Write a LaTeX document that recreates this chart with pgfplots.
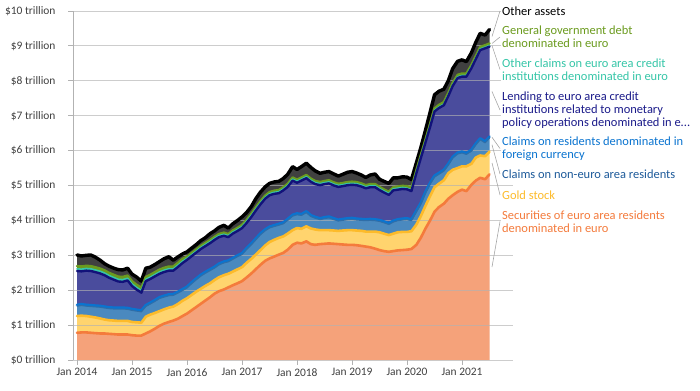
\documentclass[border=0pt]{standalone}
\usepackage{pgfplots}
\usepackage{pgfplotstable}
\pgfplotsset{compat=1.18}
\usepackage{fontspec}
\setmainfont{Carlito}

\definecolor{secF}{HTML}{F5A27A}
\definecolor{secL}{HTML}{F47B3C}
\definecolor{goldF}{HTML}{FFD46E}
\definecolor{goldL}{HTML}{FDBB2A}
\definecolor{neF}{HTML}{4A89BF}
\definecolor{neL}{HTML}{2F6EA8}
\definecolor{fxL}{HTML}{0A74D0}
\definecolor{lendF}{HTML}{4A4C9D}
\definecolor{lendL}{HTML}{12127A}
\definecolor{ociL}{HTML}{36C6A8}
\definecolor{govL}{HTML}{6B9B1E}
\definecolor{othF}{HTML}{404040}
\definecolor{labNE}{HTML}{1D5A9A}
\definecolor{labLend}{HTML}{1B1B8A}

\pgfplotstableread{
t       sec  gold noneuro fx   lend oci  gov  oth
2014.00 0.78 0.48 0.28 0.04 0.97 0.06 0.08 0.32
2014.08 0.79 0.48 0.29 0.04 0.94 0.06 0.08 0.30
2014.17 0.79 0.47 0.28 0.04 0.98 0.06 0.08 0.30
2014.25 0.78 0.46 0.29 0.04 0.98 0.06 0.08 0.32
2014.33 0.77 0.45 0.30 0.04 0.96 0.06 0.08 0.29
2014.42 0.76 0.43 0.32 0.04 0.93 0.06 0.08 0.24
2014.50 0.76 0.40 0.33 0.04 0.90 0.06 0.08 0.19
2014.58 0.75 0.39 0.33 0.04 0.85 0.06 0.08 0.19
2014.67 0.74 0.39 0.33 0.04 0.80 0.06 0.08 0.19
2014.75 0.73 0.39 0.34 0.04 0.75 0.06 0.08 0.20
2014.83 0.73 0.39 0.34 0.04 0.74 0.06 0.08 0.20
2014.92 0.73 0.39 0.33 0.04 0.79 0.06 0.08 0.21
2015.00 0.71 0.38 0.33 0.04 0.66 0.06 0.08 0.20
2015.08 0.70 0.38 0.32 0.04 0.58 0.06 0.08 0.22
2015.17 0.70 0.37 0.31 0.04 0.51 0.06 0.08 0.19
2015.25 0.76 0.48 0.29 0.04 0.69 0.05 0.07 0.25
2015.33 0.82 0.48 0.30 0.04 0.68 0.05 0.07 0.22
2015.42 0.90 0.45 0.33 0.04 0.68 0.05 0.07 0.22
2015.50 0.98 0.42 0.36 0.04 0.67 0.05 0.07 0.23
2015.58 1.04 0.41 0.35 0.04 0.68 0.05 0.07 0.26
2015.67 1.09 0.41 0.34 0.04 0.68 0.05 0.07 0.28
2015.75 1.13 0.40 0.32 0.04 0.67 0.05 0.07 0.18
2015.83 1.18 0.42 0.31 0.04 0.71 0.05 0.07 0.17
2015.92 1.26 0.44 0.29 0.04 0.75 0.05 0.07 0.14
2016.00 1.33 0.44 0.29 0.04 0.77 0.04 0.05 0.14
2016.08 1.42 0.44 0.32 0.04 0.75 0.04 0.05 0.14
2016.17 1.52 0.44 0.34 0.04 0.74 0.04 0.05 0.14
2016.25 1.61 0.43 0.36 0.04 0.74 0.04 0.05 0.15
2016.33 1.70 0.42 0.36 0.04 0.74 0.04 0.05 0.15
2016.42 1.80 0.40 0.36 0.04 0.75 0.04 0.05 0.18
2016.50 1.90 0.39 0.34 0.04 0.77 0.04 0.05 0.17
2016.58 1.97 0.40 0.35 0.04 0.76 0.04 0.05 0.19
2016.67 2.02 0.41 0.35 0.04 0.74 0.04 0.05 0.21
2016.75 2.08 0.39 0.34 0.04 0.67 0.04 0.05 0.17
2016.83 2.14 0.39 0.35 0.04 0.70 0.04 0.05 0.19
2016.92 2.20 0.40 0.36 0.04 0.70 0.04 0.05 0.21
2017.00 2.26 0.40 0.36 0.04 0.72 0.04 0.05 0.23
2017.08 2.36 0.42 0.38 0.04 0.72 0.04 0.05 0.21
2017.17 2.48 0.42 0.40 0.04 0.76 0.04 0.05 0.21
2017.25 2.60 0.42 0.42 0.04 0.80 0.04 0.05 0.25
2017.33 2.72 0.42 0.44 0.04 0.83 0.04 0.05 0.26
2017.42 2.84 0.44 0.42 0.04 0.88 0.04 0.05 0.25
2017.50 2.91 0.47 0.40 0.04 0.90 0.04 0.05 0.25
2017.58 2.96 0.48 0.38 0.04 0.90 0.04 0.05 0.25
2017.67 3.02 0.48 0.36 0.04 0.88 0.04 0.05 0.25
2017.75 3.07 0.47 0.36 0.04 0.92 0.04 0.05 0.25
2017.83 3.16 0.46 0.38 0.04 0.92 0.04 0.05 0.27
2017.92 3.30 0.42 0.40 0.04 0.98 0.04 0.05 0.31
2018.00 3.36 0.42 0.38 0.04 0.88 0.04 0.05 0.29
2018.08 3.34 0.42 0.38 0.04 0.96 0.04 0.05 0.31
2018.17 3.40 0.43 0.39 0.04 0.95 0.04 0.05 0.34
2018.25 3.32 0.45 0.34 0.04 0.96 0.04 0.05 0.32
2018.33 3.30 0.44 0.32 0.04 0.94 0.04 0.05 0.29
2018.42 3.32 0.40 0.30 0.04 0.95 0.04 0.05 0.25
2018.50 3.33 0.39 0.33 0.04 0.95 0.04 0.05 0.25
2018.58 3.34 0.38 0.35 0.04 0.95 0.04 0.05 0.25
2018.67 3.33 0.38 0.31 0.04 0.94 0.04 0.05 0.24
2018.75 3.32 0.38 0.28 0.04 0.94 0.04 0.05 0.22
2018.83 3.31 0.40 0.29 0.04 0.94 0.04 0.05 0.25
2018.92 3.30 0.42 0.30 0.04 0.95 0.04 0.05 0.28
2019.00 3.30 0.42 0.31 0.04 0.95 0.04 0.05 0.29
2019.08 3.29 0.42 0.30 0.04 0.96 0.04 0.05 0.26
2019.17 3.27 0.43 0.30 0.04 0.93 0.04 0.05 0.24
2019.25 3.25 0.43 0.31 0.04 0.89 0.04 0.05 0.22
2019.33 3.23 0.45 0.32 0.04 0.91 0.04 0.05 0.26
2019.42 3.19 0.49 0.31 0.04 0.92 0.04 0.05 0.29
2019.50 3.15 0.51 0.31 0.04 0.86 0.04 0.05 0.22
2019.58 3.12 0.50 0.31 0.04 0.83 0.04 0.05 0.23
2019.67 3.10 0.48 0.30 0.04 0.81 0.04 0.05 0.24
2019.75 3.12 0.50 0.33 0.04 0.87 0.04 0.05 0.27
2019.83 3.14 0.52 0.33 0.04 0.85 0.04 0.05 0.25
2019.92 3.15 0.52 0.34 0.04 0.85 0.04 0.05 0.26
2020.00 3.16 0.51 0.35 0.04 0.83 0.03 0.06 0.26
2020.08 3.18 0.51 0.30 0.04 0.81 0.03 0.06 0.24
2020.17 3.30 0.58 0.36 0.04 1.07 0.03 0.06 0.21
2020.25 3.50 0.62 0.34 0.04 1.28 0.03 0.06 0.21
2020.33 3.75 0.65 0.36 0.04 1.40 0.03 0.06 0.26
2020.42 4.00 0.70 0.34 0.04 1.60 0.03 0.06 0.33
2020.50 4.25 0.70 0.29 0.04 1.84 0.03 0.06 0.39
2020.58 4.38 0.67 0.27 0.04 1.86 0.03 0.06 0.39
2020.67 4.48 0.67 0.26 0.04 1.85 0.03 0.06 0.37
2020.75 4.62 0.73 0.23 0.04 1.94 0.03 0.06 0.35
2020.83 4.72 0.73 0.33 0.04 2.03 0.03 0.06 0.41
2020.92 4.82 0.68 0.40 0.04 2.14 0.03 0.06 0.39
2021.00 4.88 0.67 0.38 0.04 2.15 0.03 0.06 0.39
2021.08 4.84 0.71 0.34 0.04 2.19 0.03 0.06 0.34
2021.17 5.02 0.60 0.36 0.04 2.34 0.03 0.06 0.35
2021.25 5.14 0.66 0.36 0.04 2.42 0.03 0.06 0.39
2021.33 5.22 0.64 0.45 0.04 2.53 0.03 0.06 0.39
2021.42 5.18 0.66 0.38 0.04 2.67 0.03 0.06 0.29
2021.50 5.32 0.65 0.39 0.04 2.58 0.03 0.06 0.40
}\data

\pgfplotsset{
  base/.style={
    at={(73bp,30bp)}, anchor=south west, scale only axis,
    width=440bp, height=349bp,
    xmin=2013.927, xmax=2021.927, ymin=0, ymax=10,
    stack plots=y, no markers,
  }
}

\begin{document}
\begin{tikzpicture}[x=1bp,y=1bp]
\path[use as bounding box] (0,0) rectangle (700,390);

% areas
\begin{axis}[base, hide axis]
\addplot[fill=secF, draw=none] table[x=t,y=sec]{\data} \closedcycle;
\addplot[fill=goldF, draw=none] table[x=t,y=gold]{\data} \closedcycle;
\addplot[fill=neF, draw=none] table[x=t,y=noneuro]{\data} \closedcycle;
\addplot[fill=fxL, draw=none] table[x=t,y=fx]{\data} \closedcycle;
\addplot[fill=lendF, draw=none] table[x=t,y=lend]{\data} \closedcycle;
\addplot[fill=ociL, draw=none] table[x=t,y=oci]{\data} \closedcycle;
\addplot[fill=govL, draw=none] table[x=t,y=gov]{\data} \closedcycle;
\addplot[fill=othF, draw=none] table[x=t,y=oth]{\data} \closedcycle;
\end{axis}

% grid, ticks, lines
\begin{axis}[base,
  axis line style={draw=none},
  ymajorgrids,
  grid style={black!30, opacity=0.65, line width=0.8bp},
  xtick={2014,2015,2016,2017,2018,2019,2020,2021},
  xticklabels={Jan 2014,Jan 2015,Jan 2016,Jan 2017,Jan 2018,Jan 2019,Jan 2020,Jan 2021},
  ytick={0,1,2,3,4,5,6,7,8,9,10},
  yticklabels={\$0 trillion,\$1 trillion,\$2 trillion,\$3 trillion,\$4 trillion,\$5 trillion,\$6 trillion,\$7 trillion,\$8 trillion,\$9 trillion,\$10 trillion},
  xtick pos=left, ytick pos=left, tick align=outside,
  major tick length=5bp,
  tick style={black!30, line width=0.8bp},
  tick label style={font=\fontsize{11.5}{13}\selectfont, text=black!75},
  yticklabel style={xshift=-9bp},
  every axis plot/.append style={line join=round, line cap=round},
]
\addplot[secL, line width=2.6bp] table[x=t,y=sec]{\data};
\addplot[goldL, line width=2.6bp] table[x=t,y=gold]{\data};
\addplot[neL, line width=1bp] table[x=t,y=noneuro]{\data};
\addplot[fxL, line width=2.6bp] table[x=t,y=fx]{\data};
\addplot[lendL, line width=2.4bp] table[x=t,y=lend]{\data};
\addplot[ociL, line width=1.8bp] table[x=t,y=oci]{\data};
\addplot[govL, line width=2.4bp] table[x=t,y=gov]{\data};
\addplot[black, line width=3.4bp] table[x=t,y=oth]{\data};
\draw[black!30, line width=0.8bp] (rel axis cs:0,0) -- (rel axis cs:0,1);
\end{axis}

% leader lines
\begin{scope}[black!35, line width=0.6bp]
\draw (492,353.5) -- (500,379);
\draw (492,346.5) -- (500,353);
\draw (492,344.5) -- (500,320.5);
\draw (492,298.4) -- (500,280);
\draw (492,252.7) -- (500,241.5);
\draw (492,245.2) -- (500,216);
\draw (492,227) -- (500,195);
\draw (492,123) -- (500,168.5);
\end{scope}

% labels
\begin{scope}[every node/.style={anchor=west, align=left, fill=white, inner sep=1bp,
  font=\fontsize{12.5}{13.3}\selectfont}]
\node[text=black] at (501,379) {Other assets};
\node[text=govL] at (501,353) {General government debt\\denominated in euro};
\node[text=ociL] at (501,320.5) {Other claims on euro area credit\\institutions denominated in euro};
\node[text=labLend] at (501,280) {Lending to euro area credit\\institutions related to monetary\\policy operations denominated in e...};
\node[text=fxL] at (501,241.5) {Claims on residents denominated in\\foreign currency};
\node[text=labNE] at (501,216) {Claims on non-euro area residents};
\node[text=goldL] at (501,195) {Gold stock};
\node[text=secL] at (501,168.5) {Securities of euro area residents\\denominated in euro};
\end{scope}
\end{tikzpicture}
\end{document}
